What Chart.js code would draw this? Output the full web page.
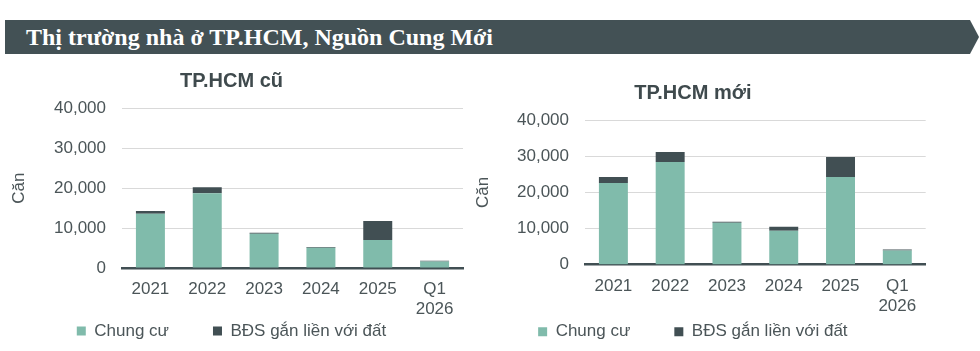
<!DOCTYPE html>
<html>
<head>
<meta charset="utf-8">
<script src="https://cdn.jsdelivr.net/npm/chart.js@4"></script>
<style>
  body { margin: 0; background: #fff; width: 980px; height: 351px; overflow: hidden; position: relative; }
  .banner {
    position: absolute; left: 5px; top: 20px; width: 974px; height: 34px; background: #435155;
    clip-path: polygon(0 0, calc(100% - 9px) 0, 100% 50%, calc(100% - 9px) 100%, 0 100%);
  }
  .banner span {
    position: absolute; left: 21px; top: 0; white-space: nowrap; color: #fff;
    font: bold 24px/34px "Liberation Serif", "Times New Roman", serif;
  }
  .box { position: absolute; top: 60px; height: 291px; }
</style>
</head>
<body>
<div class="banner"><span>Thị trường nhà ở TP.HCM, Nguồn Cung Mới</span></div>
<div class="box" style="left:0;width:480px"><canvas id="oldChart"></canvas></div>
<div class="box" style="left:460px;width:486px"><canvas id="newChart"></canvas></div>
<script>
const categories = ['2021', '2022', '2023', '2024', '2025', ['Q1', '2026']];
const seriesNames = ['Chung cư', 'BĐS gắn liền với đất'];

// TP.HCM cũ
const oldChungCu = [13600, 18750, 8600, 5100, 7000, 1600];
const oldBds = [650, 1500, 200, 170, 4750, 230];

// TP.HCM mới
const newChungCu = [22650, 28450, 11600, 9400, 24300, 3950];
const newBds = [1650, 2750, 280, 1100, 5500, 280];

const yMax = 40000;
const yStep = 10000;

const teal = '#80bbab';
const dark = '#414f53';
const textGray = '#4b5558';

Chart.defaults.font.family = "'Liberation Sans', Arial, sans-serif";
Chart.defaults.font.size = 17;
Chart.defaults.color = textGray;

// the x axis box is kept short so the wide legend fits; give its labels room again after layout
const labelRoom = {
  id: 'labelRoom',
  afterLayout(chart) {
    const x = chart.scales.x;
    x.bottom = x.top + 70;
    x.height = 70;
  }
};

function makeChart(id, title, chungCu, bds, g) {
  return new Chart(document.getElementById(id), {
    type: 'bar',
    data: {
      labels: categories,
      datasets: [
        { label: seriesNames[0], data: chungCu, backgroundColor: teal },
        { label: seriesNames[1], data: bds, backgroundColor: dark }
      ]
    },
    plugins: [labelRoom],
    options: {
      responsive: true,
      maintainAspectRatio: false,
      animation: false,
      locale: 'en-US',
      categoryPercentage: 1,
      barPercentage: 0.51,
      layout: { padding: { left: 0, top: 0, right: g.right, bottom: g.bottom } },
      plugins: {
        title: {
          display: true,
          text: title,
          color: '#3f4a4d',
          font: { size: 20, weight: 'bold' },
          padding: { top: g.titleTop, bottom: g.titleBottom }
        },
        legend: {
          position: 'bottom',
          labels: { boxWidth: 9, boxHeight: 9, padding: 44, color: textGray, font: { size: 17 } }
        },
        tooltip: { enabled: false }
      },
      scales: {
        x: {
          stacked: true,
          z: 1,
          grid: { display: false, drawTicks: false },
          border: { color: dark, width: 2.5 },
          ticks: { padding: 11, maxRotation: 0, autoSkip: false },
          afterFit: s => { s.height = g.xHeight; }
        },
        y: {
          stacked: true,
          min: 0,
          max: yMax,
          ticks: { stepSize: yStep, padding: 16 },
          grid: {
            drawTicks: false,
            color: c => (c.tick && c.tick.value === 0 ? 'rgba(0,0,0,0)' : '#d9d9d9')
          },
          border: { display: false },
          title: { display: true, text: 'Căn', font: { size: 17 }, padding: { top: g.yTitleTop, bottom: 0 } },
          afterFit: s => { s.width = g.yWidth; }
        }
      }
    }
  });
}

makeChart('oldChart', 'TP.HCM cũ', oldChungCu, oldBds, {
  right: 17, bottom: 1.5, titleTop: 9.7, titleBottom: 14.6, xHeight: 10.5, yWidth: 122, yTitleTop: 9
});
makeChart('newChart', 'TP.HCM mới', newChungCu, newBds, {
  right: 20.3, bottom: 0.8, titleTop: 21, titleBottom: 15.3, xHeight: 14.5, yWidth: 125, yTitleTop: 12.8
});
</script>
</body>
</html>
